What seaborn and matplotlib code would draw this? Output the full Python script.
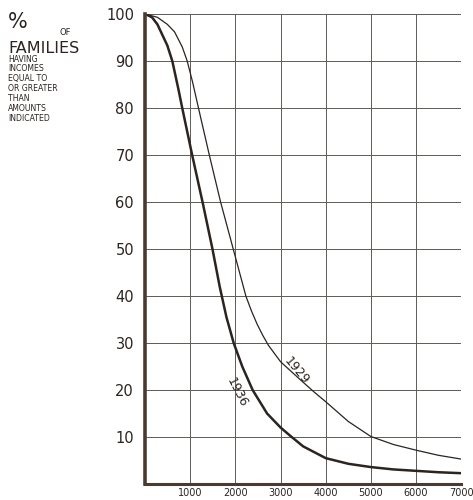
import pandas as pd
import seaborn as sns
import matplotlib.pyplot as plt

# % of families with income >= amount for each year
inc_1936 = [0, 150, 270, 490, 600, 740, 820, 1040, 1270, 1490, 1650, 1800, 1960,
            2150, 2380, 2700, 3000, 3220, 3500, 4000, 4500, 5000, 5500, 6000, 6500, 7000]
pct_1936 = [100, 99.3, 97.8, 93.3, 90, 83.8, 80, 70, 60, 50, 42, 35.5, 30,
            25, 20, 15, 12, 10.2, 8.0, 5.5, 4.3, 3.6, 3.1, 2.8, 2.5, 2.3]

inc_1929 = [0, 270, 490, 650, 820, 930, 1050, 1180, 1420, 1670, 1950, 2230, 2350, 2480,
            2600, 2730, 3000, 3400, 3750, 4000, 4500, 5000, 5500, 6000, 6500, 7000]
pct_1929 = [100, 99.3, 97.8, 96.2, 93, 90, 85.5, 80, 70, 60, 50, 40, 36.9, 34,
            31.7, 29.5, 26, 22.5, 19.5, 17.5, 13.3, 10.1, 8.4, 7.2, 6.1, 5.3]

x_ticks = [1000, 2000, 3000, 4000, 5000, 6000, 7000]
x_labels = ['1000', '2000', '3000', '4000', '5000', '6000', '7000']
y_ticks = [10, 20, 30, 40, 50, 60, 70, 80, 90, 100]

df = pd.concat([
    pd.DataFrame({'income': inc_1936, 'pct': pct_1936, 'year': '1936'}),
    pd.DataFrame({'income': inc_1929, 'pct': pct_1929, 'year': '1929'}),
])

sns.set_theme(style='white')
plt.rcParams['font.family'] = ['DejaVu Sans']

ink = '#2b2420'
fig = plt.figure(figsize=(4.73, 5.0), dpi=100)
ax = fig.add_axes([0.307, 0.032, 0.668, 0.94])

sns.lineplot(data=df, x='income', y='pct', hue='year', size='year', sort=False,
             palette={'1936': ink, '1929': ink}, sizes={'1936': 1.8, '1929': 0.9},
             legend=False, ax=ax)

ax.set_xlim(0, 7000)
ax.set_ylim(0, 100)
ax.set_xticks(x_ticks)
ax.set_xticklabels(x_labels, fontsize=7, color=ink)
ax.set_yticks(y_ticks)
ax.set_yticklabels([str(v) for v in y_ticks], fontsize=10.5, color=ink)
ax.tick_params(length=0, pad=3)
ax.tick_params(axis='y', pad=8)
ax.set_xlabel('')
ax.set_ylabel('')
ax.grid(True, color='#5e5a56', lw=0.7)
for s in ['top', 'right']:
    ax.spines[s].set_visible(False)
ax.spines['left'].set_color('#4a3b30')
ax.spines['left'].set_linewidth(2.6)
ax.spines['bottom'].set_color('#4a3b30')
ax.spines['bottom'].set_linewidth(2.2)

ax.text(3350, 24, '1929', rotation=-50, fontsize=9, color=ink, ha='center', va='center')
ax.text(2030, 19.5, '1936', rotation=-63, fontsize=9, color=ink, ha='center', va='center')

# title block at upper left
fig.text(0.017, 0.955, '%', fontsize=15, color=ink, va='center')
fig.text(0.125, 0.935, 'OF', fontsize=6, color=ink, va='center')
fig.text(0.017, 0.903, 'FAMILIES', fontsize=11.5, color=ink, va='center')
small = ['HAVING', 'INCOMES', 'EQUAL TO', 'OR GREATER', 'THAN', 'AMOUNTS', 'INDICATED']
for i, t in enumerate(small):
    fig.text(0.017, 0.882 - i * 0.0197, t, fontsize=5.6, color=ink, va='center')

fig.savefig('out.png', dpi=100, facecolor='white')
